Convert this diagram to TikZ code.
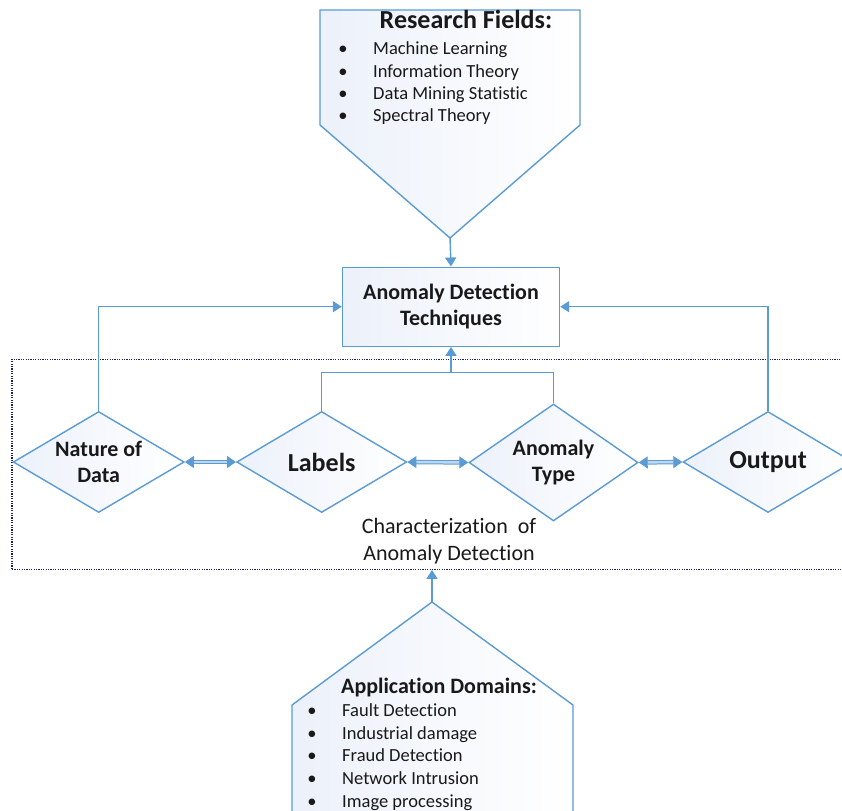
\documentclass[tikz,border=0pt]{standalone}
\usepackage{xcolor}
\usepackage{fontspec}
\setmainfont[Ligatures=NoCommon]{Carlito}
\usetikzlibrary{shapes.geometric,arrows.meta,positioning}

\definecolor{azul}{RGB}{91,155,213}
\definecolor{azulclaro}{RGB}{236,241,250}
\definecolor{marino}{RGB}{25,35,85}
\definecolor{texto}{RGB}{25,25,25}

\begin{document}
\begin{tikzpicture}[x=1pt,y=-1pt,
    linea/.style={draw=azul,line width=1.4pt},
    flecha/.style={linea,-{Triangle[length=9pt,width=11pt]}},
    doble/.style={draw=azul,line width=1pt,double=azul!40,double distance=2.4pt,
        {Triangle[length=9pt,width=12pt]}-{Triangle[length=9pt,width=12pt]}},
    relleno/.style={left color=azulclaro,right color=white},
    rombo/.style={diamond,linea,relleno,inner sep=0pt,align=center,text=texto,
        font=\fontsize{22}{26}\selectfont\bfseries},
    caja/.style={rectangle,linea,relleno,align=center,text=texto,
        minimum width=217pt,minimum height=79pt,font=\fontsize{22}{26.5}\selectfont\bfseries},
    titulo/.style={anchor=base,inner sep=0pt,text=texto},
    lista/.style={anchor=base west,inner sep=0pt,text=texto,font=\fontsize{18.5}{22}\selectfont},
    punto/.style={anchor=base,inner sep=0pt,text=texto,font=\fontsize{18.5}{22}\selectfont}]

    % Paso 1: Fija el marco de la figura
    \path[use as bounding box] (0,0) rectangle (842,810);
    \clip (0,0) rectangle (842,810);

    % Paso 2: Pentagono superior con los campos de investigacion
    \path[linea,relleno] (320,10) -- (580,10) -- (580,125) -- (450,238) -- (320,125) -- cycle;
    \coordinate (rtip) at (450,238);
    \node[titulo,font=\fontsize{26}{30}\selectfont\bfseries] (rtitle) at (466,28.5) {Research Fields:};
    \foreach \campo [count=\i] in {Machine Learning,Information Theory,Data Mining Statistic,Spectral Theory} {
        \node[punto] (rb\i) at (343,{55+22.3*(\i-1)}) {•};
        \node[lista] (ri\i) at (373,{55+22.3*(\i-1)}) {\campo};
    }

    % Paso 3: Caja central de tecnicas
    \node[caja] (tech) at (451,306.7) {Anomaly Detection\\Techniques};
    \draw[flecha] (rtip) -- (tech.north);

    % Paso 4: Recuadro punteado de la caracterizacion
    \node[rectangle,draw=marino,line width=1.2pt,dash pattern=on 1.2pt off 1.2pt,minimum width=860pt,
        minimum height=210pt,inner sep=0pt] (charac) at (442,464.3) {};
    \node[align=center,text=texto,font=\fontsize{22}{27}\selectfont] (chartext) at (449,541)
        {Characterization\ \ of\\Anomaly Detection};

    % Paso 5: Los cuatro rombos
    \node[rombo,minimum width=171pt,minimum height=101pt,aspect=1.69] (nature) at (98.7,462) {Nature of\\Data};
    \node[rombo,minimum width=170pt,minimum height=101pt,aspect=1.69,font=\fontsize{26}{30}\selectfont\bfseries] (labels) at (321.7,462) {Labels};
    \node[rombo,minimum width=169pt,minimum height=117pt,aspect=1.44] (atype) at (553.5,462.5) {Anomaly\\Type};
    \node[rombo,minimum width=170pt,minimum height=101pt,aspect=1.69,font=\fontsize{26}{30}\selectfont\bfseries] (output) at (768,462) {Output};

    % Paso 6: Flechas dobles entre rombos
    \draw[doble] (nature.east) -- (labels.west);
    \draw[doble] (labels.east) -- (atype.west);
    \draw[doble] (atype.east) -- (output.west);

    % Paso 7: Conectores hacia la caja central
    \draw[flecha] (nature.north) |- (tech.west);
    \draw[flecha] (output.north) |- (tech.east);
    \coordinate (join) at (451,372.3);
    \draw[linea] (labels.north) |- (join) -| (atype.north);
    \draw[flecha] (join) -- (tech.south);

    % Paso 8: Pentagono inferior con los dominios de aplicacion
    \path[linea,relleno] (432,602) -- (573,705) -- (573,830) -- (292,830) -- (292,705) -- cycle;
    \coordinate (atip) at (432,602);
    \draw[flecha] (atip) -- (atip |- charac.south);
    \node[titulo,font=\fontsize{22}{26}\selectfont\bfseries] (atitle) at (439,693) {Application Domains:};
    \foreach \dominio [count=\i] in {Fault Detection,Industrial damage,Fraud Detection,Network Intrusion,Image processing} {
        \node[punto] (ab\i) at (312,{716.7+22.6*(\i-1)}) {•};
        \node[lista] (ai\i) at (342,{716.7+22.6*(\i-1)}) {\dominio};
    }
\end{tikzpicture}
\end{document}
